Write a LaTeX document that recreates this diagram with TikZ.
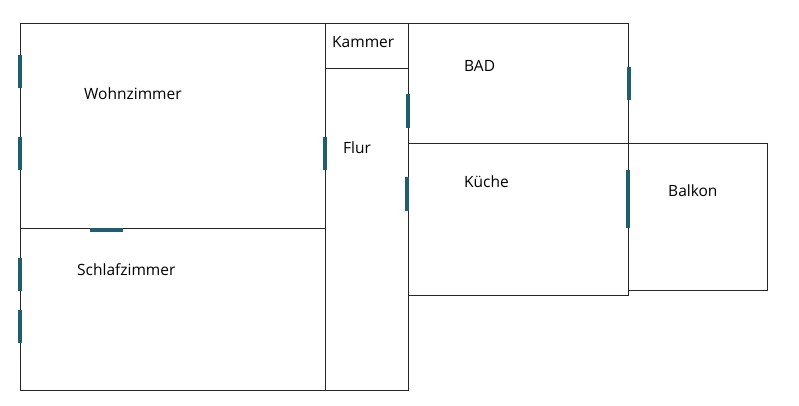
\documentclass[tikz,border=0pt]{standalone}
\usepackage{fontspec}
\setmainfont{Open Sans}
\definecolor{win}{HTML}{1F5E6E}
\begin{document}
\begin{tikzpicture}[x=1pt,y=-1pt,
  wall/.style={draw=black!85,line width=0.8pt},
  winbar/.style={draw=win,line width=3.5pt},
  lbl/.style={font=\fontsize{15.5}{17}\selectfont,anchor=west,inner sep=0pt}]
\useasboundingbox (0,0) rectangle (799,405);
\draw[wall] (20,23) rectangle (325,228);
\draw[wall] (20,228) rectangle (325,390);
\draw[wall] (325,68) rectangle (408,390);
\draw[wall] (325,23) rectangle (408,68);
\draw[wall] (408,23) rectangle (628,143);
\draw[wall] (408,143) rectangle (628,295);
\draw[wall] (628,143) rectangle (767,290);
\node[lbl] (wz) at (84,94) {Wohnzimmer};
\node[lbl] (sz) at (77,270) {Schlafzimmer};
\node[lbl] (ka) at (332,42) {Kammer};
\node[lbl] (fl) at (343,148) {Flur};
\node[lbl] (bad) at (464,66) {BAD};
\node[lbl] (ku) at (464,182) {Küche};
\node[lbl] (ba) at (668,191) {Balkon};
\draw[winbar] (20,55) -- (20,88);
\draw[winbar] (20,137) -- (20,170);
\draw[winbar] (20,258) -- (20,291);
\draw[winbar] (20,310) -- (20,343);
\draw[winbar] (90,230) -- (123,230);
\draw[winbar] (325,137) -- (325,170);
\draw[winbar] (408,94) -- (408,128);
\draw[winbar] (407,177) -- (407,211);
\draw[winbar] (629,67) -- (629,100);
\draw[winbar] (628,170) -- (628,228);
\end{tikzpicture}
\end{document}
